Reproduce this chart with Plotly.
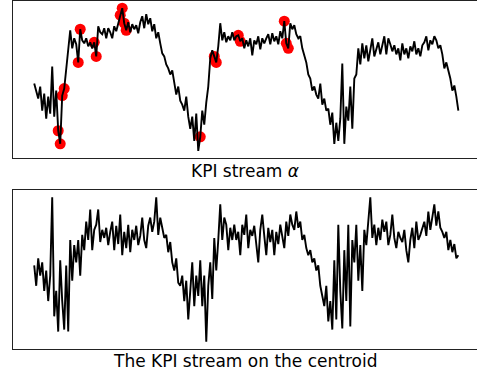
import plotly.graph_objects as go

# KPI stream alpha (top panel)
kpi_alpha = [
    75, 68, 60, 72, 48, 65, 40, 62, 45, 92,
    42, 68, 28, 15, 63, 70, 90, 105, 128, 110,
    120, 114, 96, 129, 118, 115, 120, 112, 116, 110,
    116, 102, 132, 126, 124, 130, 120, 130, 126, 120,
    132, 127, 134, 143, 150, 135, 128, 136, 126, 134,
    129, 133, 125, 136, 142, 130, 144, 134, 140, 127,
    134, 120, 126, 115, 105, 102, 94, 90, 84, 88,
    74, 64, 72, 58, 54, 48, 62, 42, 30, 42,
    18, 45, 8, 22, 48, 34, 56, 72, 100, 108,
    102, 96, 112, 135, 118, 126, 116, 122, 118, 126,
    118, 122, 123, 117, 120, 110, 118, 112, 120, 103,
    118, 114, 122, 109, 120, 115, 120, 124, 114, 125,
    117, 122, 114, 127, 120, 137, 115, 110, 135, 129,
    133, 124, 120, 122, 110, 102, 96, 84, 80, 68,
    72, 64, 60, 75, 54, 60, 48, 50, 34, 46,
    15, 36, 18, 40, 95, 15, 52, 38, 72, 30,
    80, 84, 110, 94, 115, 100, 113, 97, 108, 120,
    102, 110, 116, 104, 112, 122, 104, 120, 114, 107,
    113, 104, 110, 98, 115, 104, 110, 100, 112, 107,
    117, 104, 110, 102, 113, 116, 122, 108, 118, 114,
    122, 118, 110, 113, 104, 90, 96, 88, 80, 68,
    73, 62, 48,
]

# indices of flagged anomalies in KPI stream alpha
anomaly_idx = [12, 13, 14, 15, 22, 23, 30, 31, 43, 44, 45, 46,
               83, 90, 91, 102, 103, 125, 126, 127]

# KPI stream on the centroid (bottom panel)
kpi_centroid = [
    85, 65, 92, 75, 88, 60, 80, 50, 75, 152,
    35, 60, 20, 90, 50, 22, 85, 20, 110, 70,
    105, 88, 110, 75, 115, 100, 128, 110, 140, 100,
    120, 125, 140, 108, 120, 112, 122, 105, 118, 128,
    100, 124, 106, 135, 95, 118, 102, 125, 98, 120,
    110, 124, 105, 114, 132, 110, 102, 124, 132, 118,
    128, 152, 115, 132, 122, 112, 115, 98, 108, 88,
    80, 92, 68, 65, 75, 50, 70, 32, 60, 88,
    45, 75, 55, 90, 45, 75, 10, 65, 88, 52,
    112, 80, 110, 145, 110, 132, 125, 100, 122, 110,
    125, 110, 118, 95, 125, 115, 135, 102, 120, 114,
    124, 108, 88, 120, 135, 114, 95, 122, 108, 120,
    95, 118, 106, 125, 112, 102, 128, 114, 135, 125,
    120, 138, 122, 128, 110, 115, 102, 95, 100, 88,
    92, 80, 85, 65, 55, 45, 65, 30, 50, 22,
    90, 32, 125, 60, 23, 100, 50, 125, 25, 110,
    88, 125, 70, 105, 60, 120, 105, 128, 152, 112,
    125, 105, 122, 110, 130, 118, 128, 105, 115, 135,
    112, 102, 118, 112, 108, 120, 100, 88, 110, 122,
    102, 128, 110, 115, 122, 128, 114, 138, 120, 135,
    145, 124, 138, 122, 118, 112, 118, 100, 110, 98,
    106, 92, 95,
]

titles = ["KPI stream <i>α</i>", "The KPI stream on the centroid"]

W, H = 477, 372
ml, mr, mt, mb = 13, 0, 1, 23
ph = H - mt - mb

def pdom(top_px, bot_px):
    return [(H - mb - bot_px) / ph, (H - mb - top_px) / ph]

x1 = list(range(len(kpi_alpha)))
x2 = list(range(len(kpi_centroid)))

fig = go.Figure()
fig.add_trace(go.Scatter(
    x=anomaly_idx, y=[kpi_alpha[i] for i in anomaly_idx], mode="markers",
    marker=dict(color="#ff0000", size=11, line=dict(width=0)),
    xaxis="x", yaxis="y", showlegend=False))
fig.add_trace(go.Scatter(
    x=x1, y=kpi_alpha, mode="lines", line=dict(color="black", width=1.9),
    xaxis="x", yaxis="y", showlegend=False))
fig.add_trace(go.Scatter(
    x=x2, y=kpi_centroid, mode="lines", line=dict(color="black", width=1.9),
    xaxis="x2", yaxis="y2", showlegend=False))

def yr(vals):
    lo, hi = min(vals), max(vals)
    pad = 0.05 * (hi - lo)
    return [lo - pad, hi + pad]

def xr(n):
    span = n - 1
    lo = -0.05 * span
    return [lo, lo + span * 1.094]

axis_common = dict(showticklabels=False, ticks="", showgrid=False, zeroline=False,
                   showline=True, linecolor="#222222", linewidth=1)

fig.update_layout(
    width=W, height=H,
    margin=dict(l=ml, r=mr, t=mt, b=mb),
    paper_bgcolor="white", plot_bgcolor="white",
    font=dict(family="DejaVu Sans", size=17, color="black"),
    xaxis=dict(domain=[0, 1], anchor="y", range=xr(len(kpi_alpha)), mirror=True, **axis_common),
    yaxis=dict(domain=pdom(1, 158), anchor="x", range=yr(kpi_alpha), mirror=False, **axis_common),
    xaxis2=dict(domain=[0, 1], anchor="y2", range=xr(len(kpi_centroid)), mirror=True, **axis_common),
    yaxis2=dict(domain=pdom(190, 349), anchor="x2", range=yr(kpi_centroid), mirror=False, **axis_common),
    annotations=[
        dict(text=titles[0], xref="paper", yref="paper", x=0.5, y=(H - mb - 171) / ph,
             xanchor="center", yanchor="middle", showarrow=False,
             font=dict(family="DejaVu Sans", size=17, color="black")),
        dict(text=titles[1], xref="paper", yref="paper", x=0.5, y=(H - mb - 361) / ph,
             xanchor="center", yanchor="middle", showarrow=False,
             font=dict(family="DejaVu Sans", size=17, color="black")),
    ],
)

fig.write_html("out.html")
